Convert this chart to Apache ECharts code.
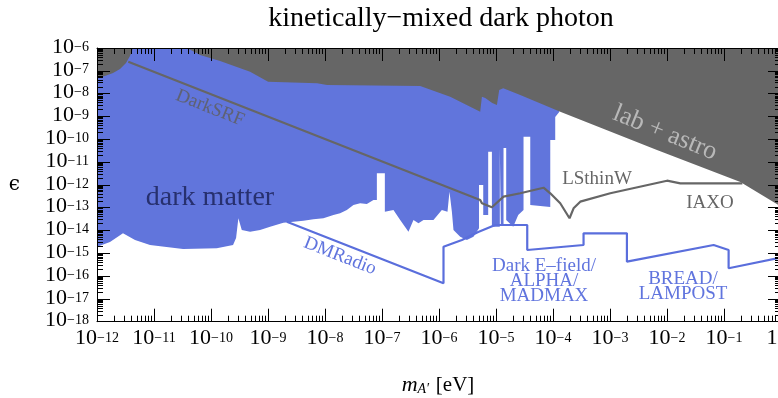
<!DOCTYPE html>
<html>
<head>
<meta charset="utf-8">
<script src="https://cdn.jsdelivr.net/npm/echarts@6/dist/echarts.min.js"></script>
<style>
  html, body { margin: 0; padding: 0; background: #fff; }
  #chart { width: 778px; height: 398px; }
</style>
</head>
<body>
<div id="chart"></div>
<script>
// all values are log10: mass in eV on x, epsilon on y
const dmLogM = [-12.000, -11.772, -11.544, -11.333, -11.070, -10.490, -9.899, -9.613, -9.560, -9.520,
  -9.460, -9.314, -9.139, -8.963, -8.730, -8.554, -8.379, -8.203, -8.028, -7.852,
  -7.735, -7.617, -7.501, -7.384, -7.266, -7.150, -7.090, -7.090, -6.950, -6.950,
  -6.799, -6.681, -6.536, -6.448, -6.360, -6.272, -6.097, -5.950, -5.851, -5.816,
  -5.774, -5.746, -5.628, -5.511, -5.395, -5.298, -5.298, -5.224, -5.224, -5.137,
  -5.137, -5.072, -5.072, -4.933, -4.933, -4.915, -4.915, -4.868, -4.868, -4.821,
  -4.821, -4.698, -4.610, -4.517, -4.517, -4.399, -4.399, -4.048, -4.048, -3.961,
  -3.961, -3.891]
const dmLogEps = [-14.711, -14.505, -14.124, -14.417, -14.637, -14.812, -14.781, -14.637, -14.330, -13.467,
  -13.979, -14.054, -13.979, -13.834, -13.659, -13.615, -13.571, -13.510, -13.466, -13.321,
  -13.247, -13.102, -12.883, -12.808, -12.839, -12.664, -12.664, -11.493, -11.493, -13.177,
  -13.102, -13.541, -14.054, -13.541, -13.685, -13.541, -13.541, -13.102, -13.177, -12.300,
  -13.177, -13.979, -14.273, -14.417, -14.273, -13.905, -12.006, -12.006, -13.321, -13.321,
  -10.546, -10.546, -13.834, -13.834, -10.384, -10.384, -13.760, -13.760, -10.384, -10.384,
  -13.541, -13.834, -13.321, -13.102, -9.889, -9.889, -12.883, -12.971, -10.033, -10.033,
  -9.025, -8.806]

const labLogM = [-12.000, -11.860, -11.719, -11.596, -11.491, -11.421, -11.368, -10.420, -10.192, -9.841,
  -9.314, -8.998, -8.138, -7.963, -6.330, -5.804, -5.277, -5.247, -5.189, -5.066,
  -4.984, -4.944, -4.873, -4.575, -3.873, -2.176, -0.713, 0.000]
const labLogEps = [-7.315, -7.228, -7.096, -6.921, -6.658, -6.351, -6.000, -6.000, -6.307, -6.570,
  -7.039, -7.477, -7.548, -7.622, -7.666, -8.135, -8.793, -8.135, -8.192, -8.411,
  -8.499, -7.841, -7.767, -8.061, -8.793, -10.472, -11.875, -12.950]

// DarkSRF -> LSthinW -> IAXO
const srfLogM = [-11.451, -5.277, -5.247, -5.072, -4.868, -4.575, -4.166, -4.048, -3.873, -3.710,
  -3.639, -3.522, -2.995, -2.000, -1.766, -0.678]
const srfLogEps = [-6.601, -12.664, -12.809, -12.984, -12.519, -12.370, -12.125, -12.370, -12.808, -13.466,
  -13.028, -12.738, -12.370, -11.818, -11.932, -11.932]

// DMRadio -> Dark E-field / ALPHA / MADMAX -> BREAD / LAMPOST
const radioLogM = [-8.670, -5.921, -5.921, -5.598, -5.312, -5.014, -4.452, -4.452, -3.464, -3.464,
  -2.703, -2.703, -1.182, -0.919, -0.919, 0.000]
const radioLogEps = [-13.615, -16.316, -14.711, -14.417, -14.067, -13.760, -13.760, -14.856, -14.637, -14.124,
  -14.124, -15.369, -14.637, -14.856, -15.658, -15.189]

const xMajor = [-12, -11, -10, -9, -8, -7, -6, -5, -4, -3, -2, -1, 0]
const yMajor = [-18, -17, -16, -15, -14, -13, -12, -11, -10, -9, -8, -7, -6]

// minor ticks at 2..9 x 10^n
function minorOf(exps) {
  const out = []
  for (let i = 0; i < exps.length - 1; i++) {
    for (let k = 2; k <= 9; k++) out.push(exps[i] + Math.log10(k))
  }
  return out
}
const xMinor = minorOf(xMajor)
const yMinor = minorOf(yMajor)

function pairs(ms, es) {
  return ms.map((m, i) => [m, es[i]])
}

const serif = 'Liberation Serif'
const blue = '#6175dc'
const gray = '#666666'

const tickRich = {
  b: { fontFamily: serif, fontSize: 22, lineHeight: 20, padding: [6, 0, 0, 0], verticalAlign: 'bottom', fill: '#000' },
  s: { fontFamily: serif, fontSize: 14, lineHeight: 14, padding: [2, 0, 0, 0], verticalAlign: 'top', fill: '#000' }
}
function powLabel(v) {
  const e = Math.round(v)
  return '{b|10}{s|' + (e < 0 ? '\u2212' + (-e) : e) + '}'
}

function axis(pos, dim, isMinor) {
  const isX = dim === 'x'
  return {
    type: 'value',
    position: pos,
    min: isX ? -12 : -18,
    max: isX ? 0 : -6,
    splitLine: { show: false },
    axisLine: { show: !isMinor, onZero: false, lineStyle: { color: '#000', width: 1 } },
    axisTick: {
      show: true, inside: true, length: isMinor ? 6 : 13,
      customValues: isMinor ? (isX ? xMinor : yMinor) : (isX ? xMajor : yMajor),
      lineStyle: { color: '#000', width: 1 }
    },
    axisLabel: { show: false },
    minorTick: { show: false },
    z: 10
  }
}

// tick labels 10^n, placed through the axes
function labelSeries(dim, values) {
  return {
    type: 'custom',
    silent: true,
    clip: false,
    z: 20,
    data: values.map(v => dim === 'x' ? [v, -18] : [-12, v]),
    renderItem: function (params, api) {
      const isX = dim === 'x'
      const v = api.value(isX ? 0 : 1)
      const p = api.coord(isX ? [v, -18] : [-12, v])
      return {
        type: 'text',
        x: isX ? p[0] : p[0] - 8,
        y: isX ? p[1] + 8 : p[1],
        style: {
          text: powLabel(v), rich: tickRich,
          align: isX ? 'center' : 'right',
          verticalAlign: isX ? 'top' : 'middle'
        }
      }
    }
  }
}

const chart = echarts.init(document.getElementById('chart'))

const xAxes = [
  axis('bottom', 'x', false),
  axis('bottom', 'x', true),
  axis('top', 'x', false),
  axis('top', 'x', true)
]

const yAxes = [
  axis('left', 'y', false),
  axis('left', 'y', true),
  axis('right', 'y', false),
  axis('right', 'y', true)
]
yAxes[0].name = '\u03f5'
yAxes[0].nameLocation = 'middle'
yAxes[0].nameRotate = 0
yAxes[0].nameGap = 77
yAxes[0].nameMoveOverlap = false
yAxes[0].nameTextStyle = { fontFamily: 'DejaVu Serif', fontSize: 20, color: '#000' }

function txt(x, y, text, size, color, rot, lh) {
  return {
    type: 'text', x: x, y: y, rotation: (rot || 0) * Math.PI / 180, z: 100,
    style: {
      text: text, fontFamily: serif, fontSize: size, fill: color,
      align: 'center', verticalAlign: 'middle', lineHeight: lh || size
    }
  }
}

chart.setOption({
  animation: false,
  title: {
    text: 'kinetically\u2212mixed dark photon',
    left: 436, top: 0, textAlign: 'center',
    textStyle: { fontFamily: serif, fontSize: 28, fontWeight: 'normal', color: '#000' }
  },
  grid: { left: 97, right: -3, top: 48, bottom: 76.3, containLabel: false, outerBoundsMode: 'none' },
  xAxis: xAxes,
  yAxis: yAxes,
  series: [
    {
      name: 'dark matter', type: 'line', data: pairs(dmLogM, dmLogEps),
      symbol: 'none', lineStyle: { width: 0 },
      areaStyle: { color: blue, opacity: 1, origin: 'end' }, z: 1
    },
    {
      name: 'DMRadio', type: 'line', data: pairs(radioLogM, radioLogEps),
      symbol: 'none', lineStyle: { color: '#5a6edc', width: 2.2 }, z: 2
    },
    {
      name: 'DarkSRF', type: 'line', data: pairs(srfLogM, srfLogEps),
      symbol: 'none', lineStyle: { color: gray, width: 2.2 }, z: 3
    },
    {
      name: 'lab + astro', type: 'line', data: pairs(labLogM, labLogEps),
      symbol: 'none', lineStyle: { width: 0 },
      areaStyle: { color: gray, opacity: 1, origin: 'end' }, z: 4
    },
    labelSeries('x', xMajor),
    labelSeries('y', yMajor)
  ],
  graphic: [
    {
      type: 'text', x: 438, y: 381, z: 100,
      style: {
        text: '{i|m}{sub|A\u2032}  {t|[eV]}', align: 'center', verticalAlign: 'middle',
        rich: {
          i: { fontFamily: serif, fontStyle: 'italic', fontSize: 22, fill: '#000', lineHeight: 24, verticalAlign: 'bottom' },
          sub: { fontFamily: serif, fontStyle: 'italic', fontSize: 14, fill: '#000', lineHeight: 30, verticalAlign: 'bottom' },
          t: { fontFamily: serif, fontSize: 21, fill: '#000', lineHeight: 24, verticalAlign: 'bottom' }
        }
      }
    },
    txt(210, 198, 'dark matter', 28, '#27306e'),
    txt(210, 108, 'DarkSRF', 19, '#5f6274', -21.5),
    txt(665, 133, 'lab + astro', 26, '#b8b8b8', -22),
    txt(597, 179, 'LSthinW', 19, gray),
    txt(710, 203, 'IAXO', 19, gray),
    txt(340, 256, 'DMRadio', 19, '#6074de', -21.5),
    txt(544, 281, 'Dark E\u2013field/\nALPHA/\nMADMAX', 19, '#6074de', 0, 15),
    txt(683, 287, 'BREAD/\nLAMPOST', 19, '#6074de', 0, 15)
  ]
})
</script>
</body>
</html>
